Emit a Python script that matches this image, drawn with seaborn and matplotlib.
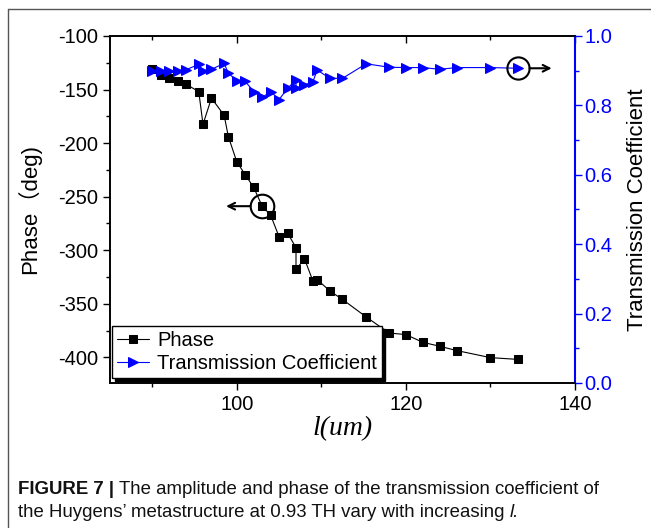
import matplotlib
matplotlib.use("Agg")
import matplotlib.pyplot as plt
import seaborn as sns
from matplotlib.lines import Line2D
from matplotlib.ticker import MultipleLocator
from matplotlib import font_manager

# Structure length l (um) and the measured response at 0.93 THz
length_um = [90, 91, 92, 93, 94, 95.5, 96, 97, 98.5, 99, 100, 101, 102, 103, 104,
             105, 106, 107, 107, 108, 109, 109.5, 111, 112.5, 115.3, 118, 120, 122,
             124, 126, 130, 133.3]
phase_deg = [-131, -136, -139, -142, -145, -152, -182.5, -158, -174, -194, -217.5,
             -229.6, -241.4, -258.9, -267.3, -287.5, -283.8, -297.8, -318, -308,
             -328.7, -327.4, -338, -346, -362.3, -377.3, -378.8, -386, -389.7,
             -393.7, -400.3, -402]
transmission = [0.899, 0.899, 0.899, 0.900, 0.903, 0.918, 0.899, 0.904, 0.921, 0.893,
                0.871, 0.869, 0.840, 0.823, 0.840, 0.817, 0.849, 0.873, 0.849, 0.859,
                0.868, 0.902, 0.878, 0.878, 0.920, 0.910, 0.909, 0.909, 0.904, 0.909,
                0.909, 0.907]

x_ticks = [100, 120, 140]
phase_ticks = [-100, -150, -200, -250, -300, -350, -400]
trans_ticks = [0.0, 0.2, 0.4, 0.6, 0.8, 1.0]

sns.set_theme(style="ticks")
installed = {f.name for f in font_manager.fontManager.ttflist}
plt.rcParams["font.family"] = ["Liberation Sans", "Noto Sans CJK SC", "DejaVu Sans"]
plt.rcParams["axes.unicode_minus"] = False
for key in ("text.color", "axes.labelcolor", "xtick.color", "ytick.color",
            "axes.edgecolor"):
    plt.rcParams[key] = "black"
caption_family = "Liberation Sans Narrow" if "Liberation Sans Narrow" in installed else "Liberation Sans"

BLUE = "#0000ff"
fig = plt.figure(figsize=(6.51, 5.28), dpi=100)
ax = fig.add_axes([110 / 651, 1 - 383 / 528, 465 / 651, 347 / 528])
ax2 = ax.twinx()

sns.lineplot(x=length_um, y=phase_deg, ax=ax, color="black", marker="s",
             markersize=6, markeredgecolor="black", linewidth=0.8,
             estimator=None, sort=False, label="Phase")
sns.lineplot(x=length_um, y=transmission, ax=ax2, color=BLUE, marker=">",
             markersize=7.5, markeredgecolor=BLUE, linewidth=0.8,
             estimator=None, sort=False, label="Transmission Coefficient")
if ax.get_legend() is not None:
    ax.get_legend().remove()

ax.set_xlim(85, 140)
ax.set_ylim(-424, -100)
ax2.set_ylim(0, 1.0)
ax.set_xticks(x_ticks)
ax.xaxis.set_minor_locator(MultipleLocator(10))
ax.set_yticks(phase_ticks)
ax.yaxis.set_minor_locator(MultipleLocator(25))
ax2.set_yticks(trans_ticks)
ax2.set_yticklabels([f"{t:.1f}" for t in trans_ticks])
ax2.yaxis.set_minor_locator(MultipleLocator(0.1))

for a in (ax, ax2):
    for s in a.spines.values():
        s.set_visible(True)
        s.set_linewidth(1.2)
        s.set_color("black")
ax2.spines["right"].set_color(BLUE)
ax2.spines["right"].set_linewidth(1.5)

ax.tick_params(axis="both", which="major", direction="out", length=5, width=1,
               labelsize=14.5, colors="black")
ax.tick_params(axis="both", which="minor", direction="out", length=3, width=1)
ax.tick_params(axis="x", which="both", top=True)
ax2.tick_params(axis="y", which="major", direction="out", length=5, width=1,
                labelsize=14.5, colors=BLUE, pad=2)
ax2.tick_params(axis="y", which="minor", direction="out", length=3, width=1, colors=BLUE)
# top axis ticks point inward
majors = ax.xaxis.get_major_ticks()
for t in majors + ax.xaxis.get_minor_ticks():
    t.tick2line.set_marker(3)  # TICKDOWN
    t.tick2line.set_markersize(5 if t in majors else 3)

ax.set_ylabel("Phase（deg)", fontsize=16, labelpad=12)
ax2.set_ylabel("Transmission Coefficient", fontsize=16, color="black", labelpad=10)
ax.set_xlabel("l(um)", fontsize=20, fontfamily="Liberation Serif", fontstyle="italic",
              labelpad=2)

# circled points with arrows toward their axes
i_ph = 13
ax.plot([length_um[i_ph]], [phase_deg[i_ph]], marker="o", markersize=17, mfc="none",
        mec="black", mew=1.5, linestyle="none")
ax.annotate("", xy=(length_um[i_ph], phase_deg[i_ph]), xytext=(-26, 0),
            textcoords="offset points",
            arrowprops=dict(arrowstyle="<-", lw=1.5, color="black",
                            shrinkA=0, shrinkB=8.5))
i_tr = len(length_um) - 1
ax2.plot([length_um[i_tr]], [transmission[i_tr]], marker="o", markersize=16, mfc="none",
         mec="black", mew=1.5, linestyle="none")
ax2.annotate("", xy=(length_um[i_tr], transmission[i_tr]), xytext=(24, 0),
             textcoords="offset points",
             arrowprops=dict(arrowstyle="<-", lw=1.5, color="black",
                             shrinkA=0, shrinkB=8))

handles = [ax.get_lines()[0], ax2.get_lines()[0]]
labels = ["Phase", "Transmission Coefficient"]
leg = ax2.legend(handles, labels, loc="lower left", bbox_to_anchor=(0.004, 0.014),
                 borderaxespad=0, fontsize=14.5, frameon=True, fancybox=False,
                 edgecolor="black", framealpha=1,
                 shadow={"color": "black", "alpha": 1}, handlelength=1.6,
                 handletextpad=0.4, borderpad=0.25, labelspacing=0.2)
leg.get_frame().set_linewidth(1.0)

# outer frame of the figure panel
fig.add_artist(Line2D([8 / 651, 8 / 651], [0, 1 - 9 / 528], transform=fig.transFigure,
                      color="#555555", lw=1))
fig.add_artist(Line2D([8 / 651, 1], [1 - 9 / 528, 1 - 9 / 528], transform=fig.transFigure,
                      color="#555555", lw=1))

# caption
fig.canvas.draw()
renderer = fig.canvas.get_renderer()
cap_size = 13.4
x0 = 18 / 651
y1 = 1 - 494 / 528
y2 = 1 - 517 / 528
t1 = fig.text(x0, y1, "FIGURE 7 | ", fontsize=cap_size, fontweight="bold",
              fontfamily=caption_family, color="#111111")
w1 = t1.get_window_extent(renderer).width / fig.bbox.width
fig.text(x0 + w1, y1, "The amplitude and phase of the transmission coefficient of",
         fontsize=cap_size, fontfamily=caption_family, color="#111111")
t2 = fig.text(x0, y2, "the Huygens\u2019 metastructure at 0.93 TH vary with increasing ",
              fontsize=cap_size, fontfamily=caption_family, color="#111111")
w2 = t2.get_window_extent(renderer).width / fig.bbox.width
fig.text(x0 + w2, y2, "l.", fontsize=cap_size, fontfamily=caption_family,
         fontstyle="italic", color="#111111")

fig.savefig("out.png", dpi=100)
